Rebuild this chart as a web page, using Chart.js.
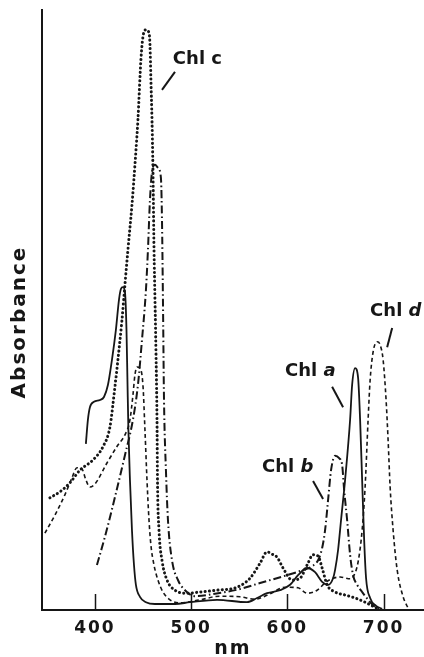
<!DOCTYPE html>
<html>
<head>
<meta charset="utf-8">
<script src="https://cdn.jsdelivr.net/npm/chart.js@4.4.1/dist/chart.umd.min.js"></script>
<style>
  html, body { margin: 0; padding: 0; background: #ffffff; }
  #c { display: block; }
</style>
</head>
<body>
<canvas id="c" width="424" height="657"></canvas>
<script>
// ---- Data (wavelength in nm, absorbance in arbitrary units) ----
const xTicks = [400, 500, 600, 700];

const chlA_nm  = [390.6,392.7,394.8,399.0,405.2,409.4,413.5,417.7,421.8,425.0,427.0,429.1,431.2,432.8,433.8,434.8,436.4,438.5,440.6,442.6,446.8,453.0,462.4,483.2,498.8,526.9,558.1,568.5,578.9,592.4,602.8,611.1,620.5,628.8,636.1,642.3,647.5,649.6,652.7,655.8,660.0,665.2,667.3,670.4,673.5,675.6,677.7,679.8,681.8,686.0,692.2,698.5];
const chlA_abs = [27.7,31.7,33.8,34.7,35.0,35.5,37.5,41.7,46.7,51.7,53.5,53.8,53.0,46.7,38.3,30.0,21.7,13.3,7.5,4.2,2.2,1.3,1.0,1.0,1.3,1.7,1.3,2.0,2.8,3.3,4.2,5.8,7.0,6.3,4.7,4.2,5.3,6.7,10.0,15.0,21.7,31.7,37.5,40.3,38.7,31.7,21.7,11.7,5.3,2.0,0.7,0.2];

const chlB_nm  = [402.1,410.4,420.8,431.2,439.5,444.7,448.9,453.0,455.1,457.2,459.3,462.4,465.5,468.6,469.7,470.7,471.8,473.8,475.9,480.1,486.3,493.6,504.0,524.8,550.8,571.6,599.7,613.2,625.7,631.9,636.1,639.2,642.3,645.4,649.6,653.8,656.9,659.0,662.1,665.2,668.3,672.5,677.7,683.9,691.2,696.4];
const chlB_abs = [7.5,12.2,18.8,25.8,31.7,37.5,45.0,53.3,60.0,68.3,73.0,74.2,73.7,72.0,65.0,51.7,35.0,23.3,15.0,8.3,5.0,3.3,2.3,2.7,3.5,4.5,5.8,6.5,7.3,8.3,10.3,13.3,18.3,23.3,25.7,25.3,24.2,20.0,15.0,9.2,5.8,4.2,3.0,1.7,0.5,0.2];

const chlC_nm  = [353.2,363.6,374.0,384.4,397.9,408.3,415.6,420.8,423.9,428.1,431.2,434.3,438.5,441.6,444.7,447.8,449.9,453.0,456.2,457.2,458.2,459.3,460.3,461.4,462.4,463.4,464.5,465.0,466.6,469.7,474.9,483.2,495.7,509.2,526.9,547.7,561.2,571.6,578.9,584.1,589.3,595.5,604.9,613.2,620.5,626.7,631.9,636.1,641.3,649.6,660.0,670.4,680.8,688.1,694.3];
const chlC_abs = [18.7,19.7,21.2,23.3,25.0,27.2,30.5,37.2,41.7,48.3,54.2,60.0,67.5,74.2,81.7,91.7,95.5,96.7,96.2,94.2,88.3,81.7,73.3,60.0,51.7,43.3,31.7,21.7,13.3,8.3,5.0,3.3,2.8,3.0,3.3,3.8,5.3,7.8,9.7,9.3,8.8,7.0,5.0,5.3,7.5,9.2,9.0,7.0,4.2,3.0,2.5,2.0,1.3,0.7,0.2];

const chlD_nm  = [348.0,358.4,368.8,376.1,381.3,386.5,390.6,394.8,400.0,412.5,423.9,431.2,436.4,439.5,441.6,443.7,446.8,449.9,452.0,454.1,456.2,458.2,461.4,465.5,470.7,478.0,488.4,509.2,530.0,550.8,566.4,582.0,597.6,611.1,620.5,630.9,641.3,654.8,665.2,669.3,673.5,677.7,680.8,683.9,686.0,689.1,693.3,696.4,699.5,702.6,704.7,706.8,709.9,714.1,720.3,725.5];
const chlD_abs = [12.8,15.8,19.2,22.0,23.7,23.5,21.7,20.5,21.0,24.5,27.5,29.2,31.7,35.8,39.2,40.5,40.3,37.5,30.0,21.7,15.0,10.8,7.5,5.0,3.0,1.7,1.2,1.7,2.3,2.2,1.8,2.7,3.8,3.7,2.8,3.3,4.8,5.5,5.2,5.8,8.0,13.3,20.5,31.7,38.3,43.0,44.7,44.2,41.7,35.0,28.3,20.5,13.3,6.7,2.2,0.3];

// ---- Build library structures ----
const pts = (xs, ys) => xs.map((x, i) => ({ x: x, y: ys[i] }));
const INK = '#161616';
const FONT = '"DejaVu Sans", "Liberation Sans", sans-serif';

// Annotation labels (anchored in data units)
const labels = [
  { parts: [['Chl ', false], ['c', false]], x: 481, y: 91.7, lead: [469.7, 86.7, 483.2, 89.7] },
  { parts: [['Chl ', false], ['d', true]],  x: 686, y: 49.7, lead: [703.7, 43.8, 708.9, 47.0] },
  { parts: [['Chl ', false], ['a', true]],  x: 597.6, y: 39.7, lead: [646.5, 37.2, 657.9, 33.8] },
  { parts: [['Chl ', false], ['b', true]],  x: 573.7, y: 23.8, lead: [626.7, 21.5, 637.1, 18.5] }
];

const spacingPlugin = {
  id: 'spacing',
  beforeDraw(chart) { chart.ctx.letterSpacing = '2px'; },
  afterDatasetsDraw(chart) { chart.ctx.letterSpacing = '0px'; }
};

const decorPlugin = {
  id: 'decor',
  afterDraw(chart) {
    const ctx = chart.ctx;
    const xs = chart.scales.x, ys = chart.scales.y;
    const area = chart.chartArea;
    ctx.save();
    // inner tick marks on the x axis
    ctx.strokeStyle = INK;
    ctx.lineWidth = 1.5;
    xs.ticks.forEach(t => {
      const px = Math.round(xs.getPixelForValue(t.value)) + 0.5;
      ctx.beginPath();
      ctx.moveTo(px, area.bottom);
      ctx.lineTo(px, area.bottom - 16);
      ctx.stroke();
    });
    // y axis title
    ctx.save();
    ctx.letterSpacing = '2px';
    ctx.translate(20, (area.top + area.bottom) / 2 + 12);
    ctx.rotate(-Math.PI / 2);
    ctx.fillStyle = INK;
    ctx.font = 'bold 20px ' + FONT;
    ctx.textAlign = 'center';
    ctx.textBaseline = 'middle';
    ctx.fillText('Absorbance', 0, 0);
    ctx.restore();
    // curve labels with leader lines
    ctx.letterSpacing = '0px';
    ctx.fillStyle = INK;
    ctx.textBaseline = 'middle';
    ctx.textAlign = 'left';
    labels.forEach(l => {
      let px = xs.getPixelForValue(l.x);
      const py = ys.getPixelForValue(l.y);
      l.parts.forEach(([txt, ital]) => {
        ctx.font = (ital ? 'italic ' : '') + 'bold 18px ' + FONT;
        ctx.fillText(txt, px, py);
        px += ctx.measureText(txt).width;
      });
      ctx.lineWidth = 2;
      ctx.beginPath();
      ctx.moveTo(xs.getPixelForValue(l.lead[0]), ys.getPixelForValue(l.lead[1]));
      ctx.lineTo(xs.getPixelForValue(l.lead[2]), ys.getPixelForValue(l.lead[3]));
      ctx.stroke();
    });
    ctx.restore();
  }
};

const common = {
  borderColor: INK,
  pointRadius: 0,
  fill: false,
  cubicInterpolationMode: 'monotone'
};

new Chart(document.getElementById('c'), {
  type: 'line',
  data: {
    datasets: [
      Object.assign({ label: 'Chl a', data: pts(chlA_nm, chlA_abs), borderWidth: 1.8 }, common),
      Object.assign({ label: 'Chl b', data: pts(chlB_nm, chlB_abs), borderWidth: 2, borderDash: [8, 3, 1.5, 3] }, common),
      Object.assign({ label: 'Chl c', data: pts(chlC_nm, chlC_abs), borderWidth: 3, borderDash: [0.1, 4.2], borderCapStyle: 'round' }, common),
      Object.assign({ label: 'Chl d', data: pts(chlD_nm, chlD_abs), borderWidth: 1.6, borderDash: [4, 3] }, common)
    ]
  },
  options: {
    responsive: false,
    devicePixelRatio: 1,
    animation: false,
    layout: { padding: { top: 10, left: 0, right: 0, bottom: 0 } },
    plugins: { legend: { display: false }, tooltip: { enabled: false } },
    scales: {
      x: {
        type: 'linear',
        min: 345,
        max: 742,
        afterBuildTicks: s => { s.ticks = xTicks.map(v => ({ value: v })); },
        afterFit: s => { s.height = 47; },
        grid: { display: false, drawTicks: false },
        border: { display: true, color: INK, width: 2 },
        ticks: {
          autoSkip: false,
          maxRotation: 0,
          padding: 8,
          color: INK,
          font: { family: FONT, size: 17, weight: 'bold' }
        },
        title: {
          display: true,
          text: 'nm',
          color: INK,
          padding: { top: 0, bottom: -2 },
          font: { family: FONT, size: 19, weight: 'bold', lineHeight: 1 }
        }
      },
      y: {
        min: 0,
        max: 100,
        afterFit: s => { s.width = 42; },
        grid: { display: false, drawTicks: false },
        border: { display: true, color: INK, width: 2 },
        ticks: { display: false },
        title: { display: false }
      }
    }
  },
  plugins: [spacingPlugin, decorPlugin]
});
</script>
</body>
</html>
